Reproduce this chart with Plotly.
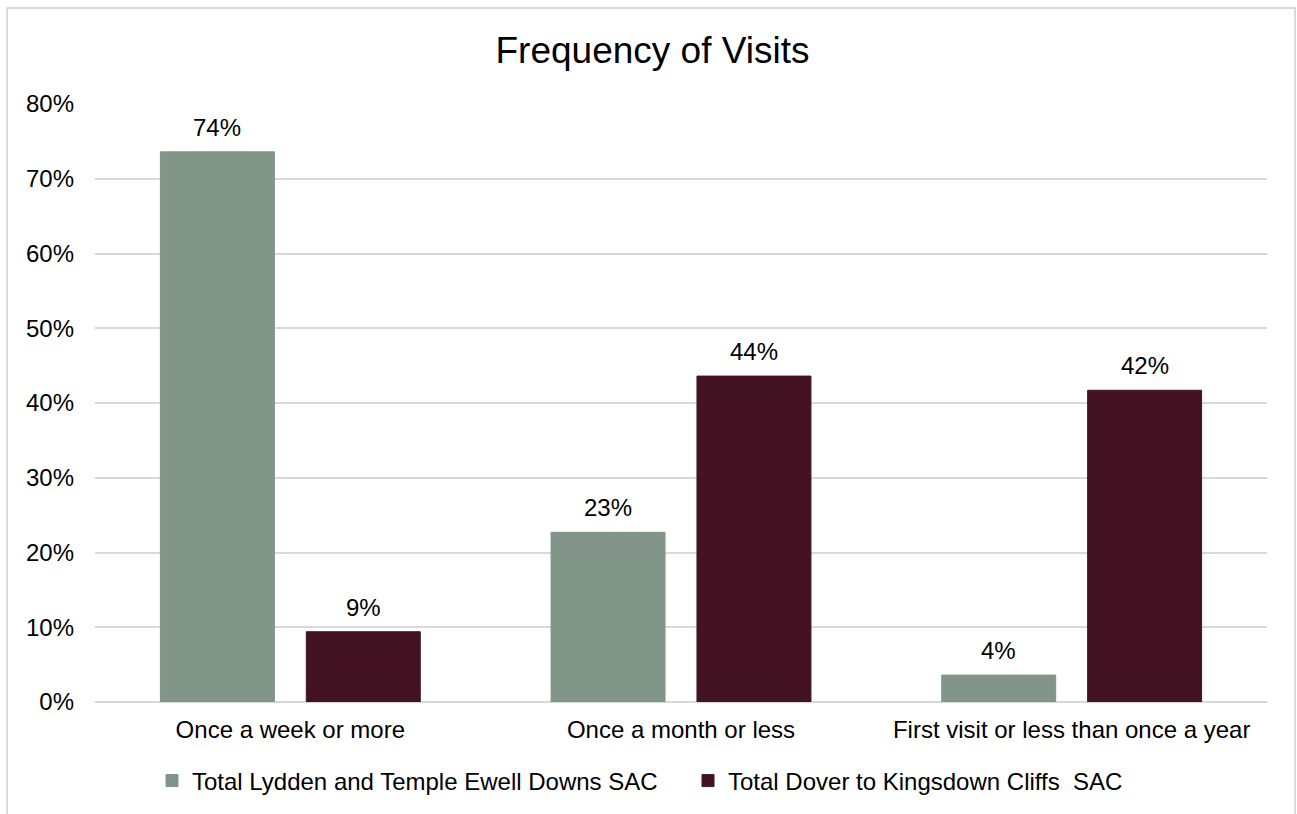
import plotly.graph_objects as go

categories = ['Once a week or more', 'Once a month or less', 'First visit or less than once a year']
lydden_values = [0.736, 0.227, 0.036]
dover_values = [0.094, 0.436, 0.417]
series_names = ['Total Lydden and Temple Ewell Downs SAC', 'Total Dover to Kingsdown Cliffs  SAC']
series_colors = ['#819589', '#431324']
y_ticks = [0, 0.1, 0.2, 0.3, 0.4, 0.5, 0.6, 0.7, 0.8]

W, H = 1297, 814
ML, MR, MT, MB = 95, 30, 104, 112
font = 'Liberation Sans, Arial, sans-serif'
fs = 24

fig = go.Figure()
for name, vals, col in zip(series_names, [lydden_values, dover_values], series_colors):
    fig.add_trace(go.Bar(
        x=categories, y=vals, name=name,
        marker=dict(color=col, line=dict(color=col, width=1)),
    ))

# data labels above each bar
annotations = []
for i, vals in enumerate([lydden_values, dover_values]):
    shift = -73 if i == 0 else 73
    for c, v in zip(categories, vals):
        annotations.append(dict(
            x=c, y=v, text=f"{v:.0%}", showarrow=False,
            xshift=shift, yshift=9, yanchor='bottom',
            font=dict(family=font, size=fs, color='#000000'),
        ))

pw = W - ML - MR
ph = H - MT - MB
fig.update_layout(
    width=W, height=H,
    margin=dict(l=ML, r=MR, t=MT, b=MB, autoexpand=False),
    paper_bgcolor='white', plot_bgcolor='white',
    title=dict(text='Frequency of Visits', x=652.5 / W, xanchor='center',
               y=1 - 50 / H, yanchor='middle', yref='container',
               font=dict(family=font, size=37, color='#000000')),
    barmode='group', bargap=0.253, bargroupgap=0.219,
    font=dict(family=font, size=fs, color='#000000'),
    xaxis=dict(showgrid=False, showline=False, ticks='', ticklabelstandoff=11,
               tickfont=dict(family=font, size=fs, color='#000000')),
    yaxis=dict(range=[0, 0.8], tickvals=y_ticks, tickformat='.0%',
               showgrid=True, gridcolor='#d9d9d9', gridwidth=2,
               zeroline=True, zerolinecolor='#d9d9d9', zerolinewidth=2,
               showline=False, ticks='', ticklabelstandoff=20,
               tickfont=dict(family=font, size=fs, color='#000000')),
    legend=dict(orientation='h', x=(152 - ML) / pw, xanchor='left',
                y=-(781 - 702) / ph, yanchor='middle',
                entrywidth=491, entrywidthmode='pixels',
                font=dict(family=font, size=fs, color='#000000'),
                itemclick=False),
    annotations=annotations,
    shapes=[dict(type='rect', xref='paper', yref='paper',
                 x0=(7 - ML) / pw, x1=(1295 - ML) / pw,
                 y0=-(MB + 20) / ph, y1=1 + (MT - 8) / ph,
                 line=dict(color='#d9d9d9', width=2), layer='below')],
)

fig.write_html("out.html", config={'displayModeBar': False},
               post_script="document.body.style.margin='0';")
